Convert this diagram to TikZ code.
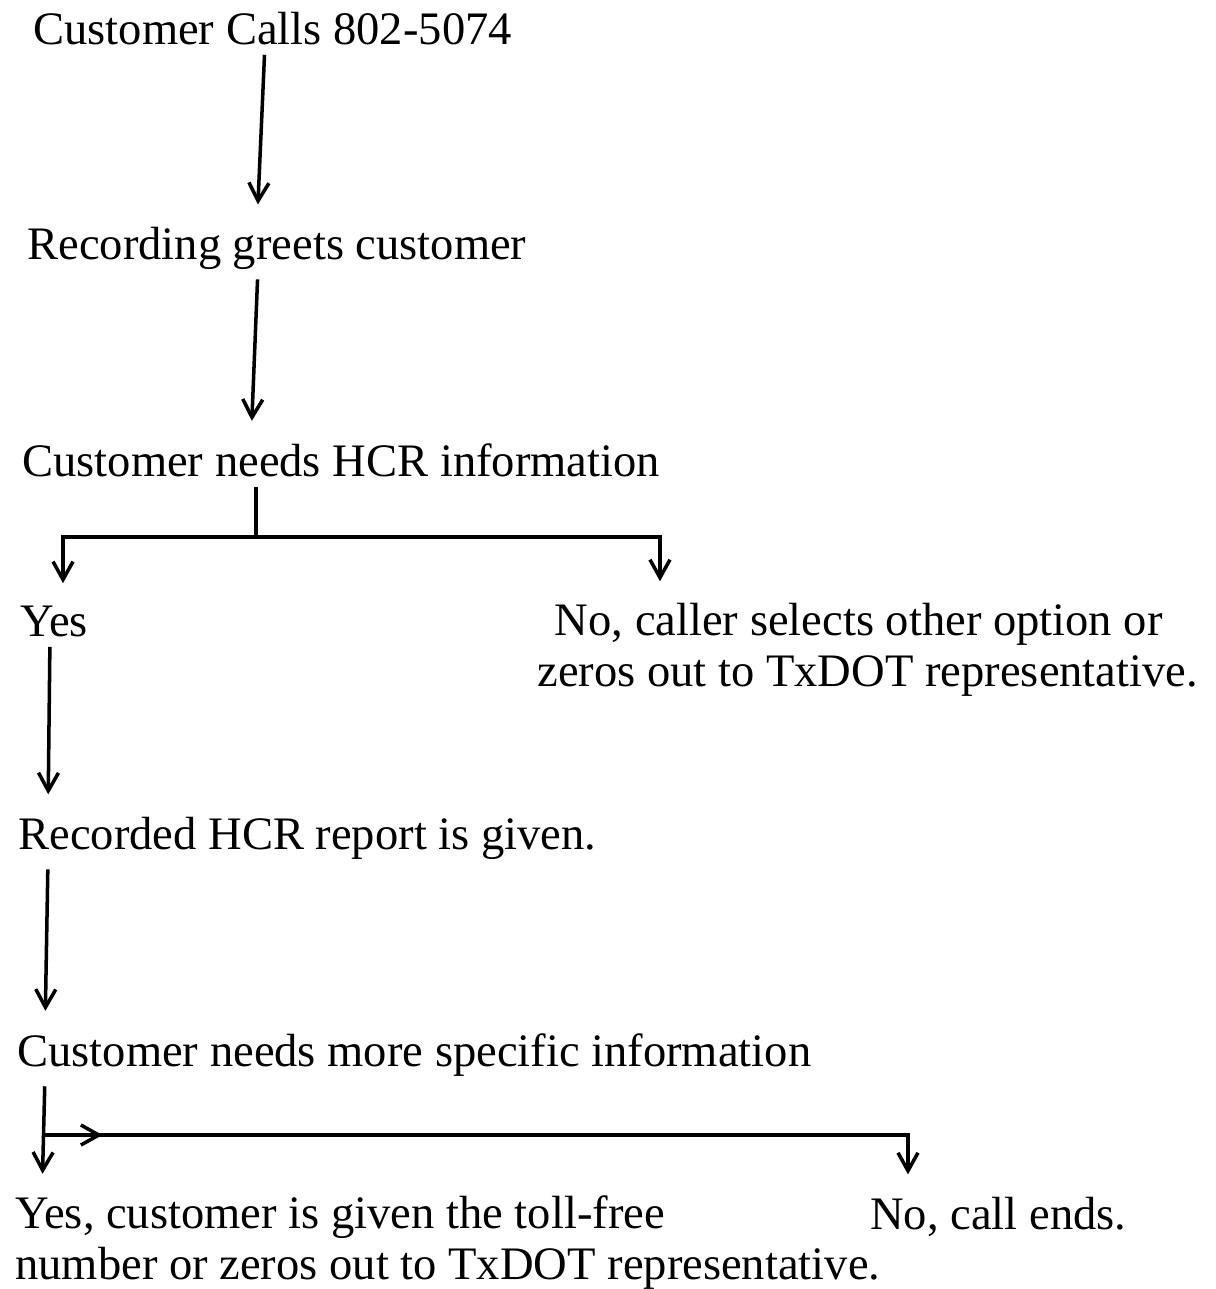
\documentclass[tikz,border=0pt]{standalone}
\usepackage{fontspec}
\setmainfont{Liberation Serif}
\usepackage{tikz}
\usetikzlibrary{arrows.meta}

\begin{document}
\begin{tikzpicture}[
  x=0.02cm, y=-0.02cm,
  every node/.style={inner sep=0pt, anchor=base west, font=\fontsize{26.5}{28.5}\selectfont},
  txt/.style={align=left},
  line/.style={line width=2pt},
  flow/.style={line, -{Straight Barb[length=0.36cm,width=0.4cm,line width=2pt]},
    shorten <=0.2cm, shorten >=0.44cm},
]
\useasboundingbox (0,0) rectangle (1215,1289);

% multi-line nodes sit on the baseline of their last line
\node (call)     at (33,44)    {Customer Calls 802-5074};
\node (greet)    at (27,259)   {Recording greets customer};
\node (hcr)      at (22,476)   {Customer needs HCR information};
\node (yes)      at (20,636)   {Yes};
\node[txt] (no)  at (537,686)  {\hspace*{10pt}No, caller selects other option or\\zeros out to TxDOT representative.};
\node (report)   at (18,849)   {Recorded HCR report is given.};
\node (more)     at (17,1066)  {Customer needs more specific information};
\node[txt] (yesend) at (15,1279) {Yes, customer is given the toll-free\\number or zeros out to TxDOT representative.};
\node (callend)  at (870,1229) {No, call ends.};

\coordinate (splitA) at (256,537);
\coordinate (splitB) at (45,1135);

\draw[flow] ([xshift=4.64cm]call.south west) -- ([xshift=4.6cm]greet.north west);
\draw[flow] ([xshift=4.62cm]greet.south west) -- ([xshift=4.58cm]hcr.north west);
\draw[line, shorten <=0.2cm] (hcr.south -| splitA) -- (splitA);
\draw[flow, shorten <=0pt] (splitA) -| ([xshift=0.86cm]yes.north west);
\draw[flow, shorten <=0pt] (splitA) -| ([xshift=2.46cm]no.north west);
\draw[flow] ([xshift=0.6cm]yes.south west) -- ([xshift=0.6cm]report.north west);
\draw[flow] ([xshift=0.6cm]report.south west) -- ([xshift=0.56cm]more.north west);
\draw[flow] ([xshift=0.56cm]more.south west) -- ([xshift=0.54cm]yesend.north west);
\draw[flow, shorten <=0pt] (splitB) -| ([xshift=0.76cm]callend.north west);
\draw[flow, shorten <=0pt, shorten >=0pt] (splitB) -- ++(1.15cm,0);
\end{tikzpicture}
\end{document}
